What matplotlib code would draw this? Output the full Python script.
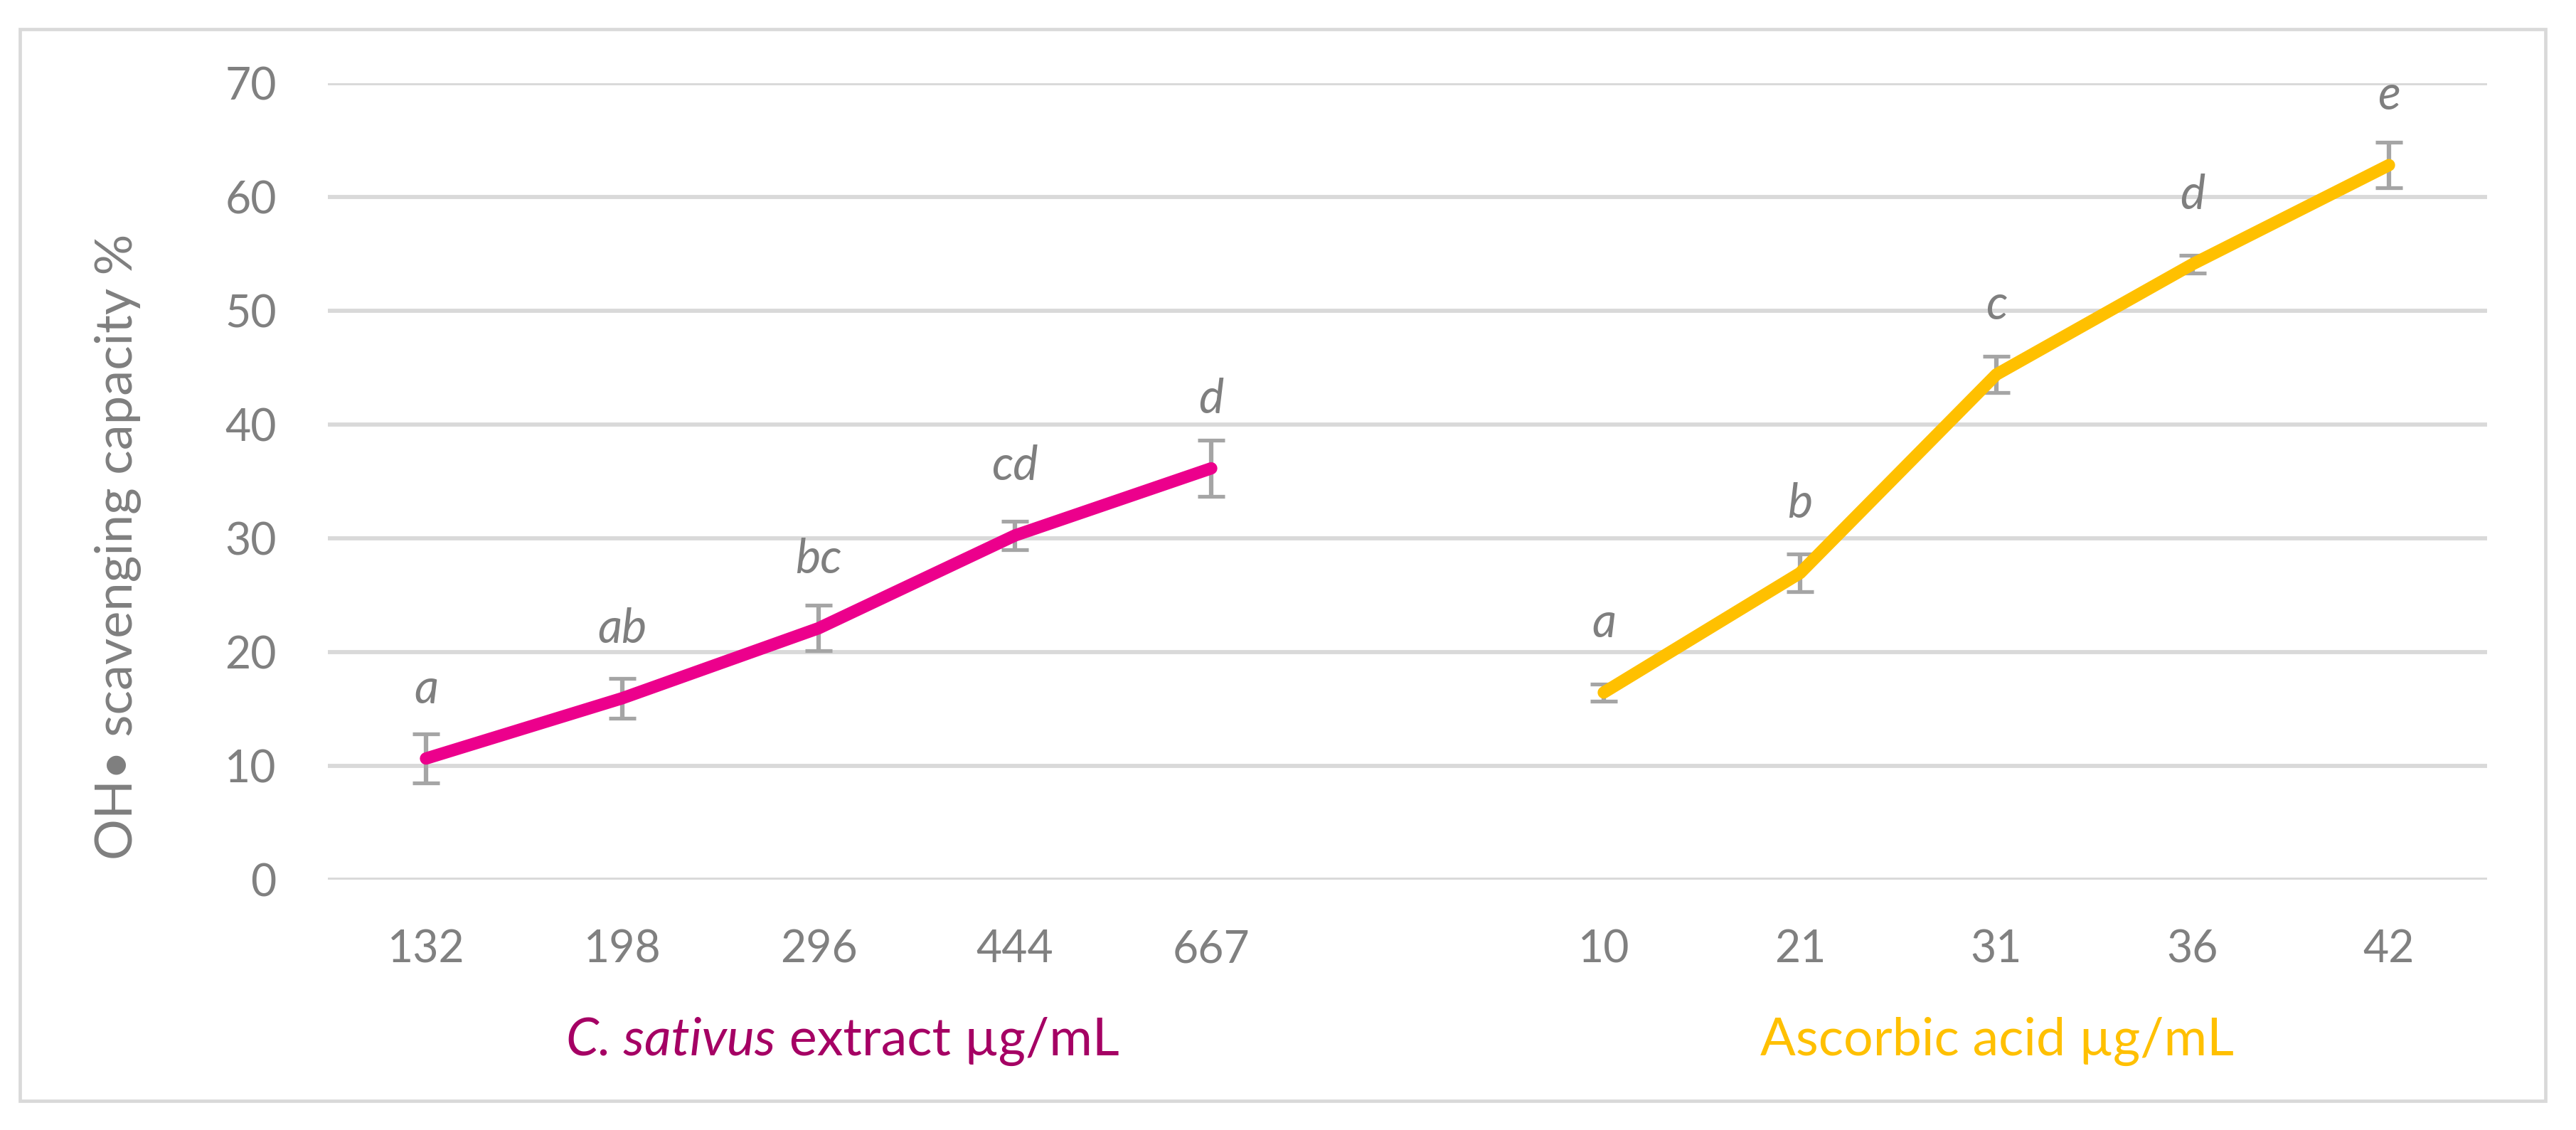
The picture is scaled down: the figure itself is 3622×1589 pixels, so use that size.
import matplotlib
matplotlib.use("Agg")
import matplotlib.pyplot as plt
from matplotlib.patches import Rectangle

# ---- data ----
cs_conc = ["132", "198", "296", "444", "667"]
cs_vals = [10.65, 15.95, 22.1, 30.25, 36.15]
cs_err = [2.15, 1.75, 2.0, 1.25, 2.45]
cs_letters = ["a", "ab", "bc", "cd", "d"]

aa_conc = ["10", "21", "31", "36", "42"]
aa_vals = [16.45, 26.95, 44.4, 54.1, 62.8]
aa_err = [0.75, 1.65, 1.6, 0.8, 2.0]
aa_letters = ["a", "b", "c", "d", "e"]

y_ticks = [0, 10, 20, 30, 40, 50, 60, 70]

# ---- style ----
W, H, DPI = 3622, 1589, 100
FONT = ["Lato", "DejaVu Sans"]
plt.rcParams["font.family"] = FONT
GRAY_TXT = "#7F7F7F"
GRID = "#D9D9D9"
PINK = "#EC008C"
PINK_TXT = "#A50064"
GOLD = "#FFC000"
ERR = "#A5A5A5"

fig = plt.figure(figsize=(W / DPI, H / DPI), dpi=DPI)
fig.patch.set_facecolor("white")

# outer frame
fig.patches.append(Rectangle((28 / W, 1 - 1548 / H), (3579 - 28) / W, (1548 - 41) / H,
                             transform=fig.transFigure, fill=False,
                             edgecolor=GRID, linewidth=3.4, zorder=0))

ax = fig.add_axes([461 / W, 1 - 1237 / H, (3497 - 461) / W, (1237 - 117) / H])
ax.set_facecolor("none")

cs_x = list(range(len(cs_conc)))
aa_x = [len(cs_conc) + 1 + i for i in range(len(aa_conc))]

ax.set_xlim(-0.5, len(cs_conc) + len(aa_conc) + 0.5)
ax.set_ylim(0, 70)
ax.set_yticks(y_ticks)
ax.set_xticks(cs_x + aa_x)
ax.set_xticklabels(cs_conc + aa_conc)

for s in ax.spines.values():
    s.set_visible(False)
ax.tick_params(axis="both", length=0, labelsize=45, labelcolor="#808080")
ax.tick_params(axis="x", pad=50)
ax.tick_params(axis="y", pad=52)
ax.grid(axis="y", color=GRID, linewidth=4.2, zorder=0)
ax.set_axisbelow(True)

for xs, vals, errs, col, letters in [(cs_x, cs_vals, cs_err, PINK, cs_letters),
                                      (aa_x, aa_vals, aa_err, GOLD, aa_letters)]:
    ax.errorbar(xs, vals, yerr=errs, fmt="none", ecolor=ERR, elinewidth=4.5,
                capsize=13.5, capthick=3.8, zorder=2)
    ax.plot(xs, vals, color=col, linewidth=12.5, solid_capstyle="round",
            solid_joinstyle="round", zorder=3)
    for x, v, lab in zip(xs, vals, letters):
        ax.annotate(lab, (x, v), xytext=(0, 56), textcoords="offset points",
                    ha="center", va="baseline", fontsize=48, style="italic",
                    color=GRAY_TXT, zorder=4)

# y-axis title
fig.text(166 / W, 1 - 769 / H, "OH\u2022 scavenging capacity %", rotation=90,
         ha="center", va="center", fontsize=52, color=GRAY_TXT)

# category titles
fig.canvas.draw()
renderer = fig.canvas.get_renderer()
base_y = 1 - 1484 / H
t1 = fig.text(0, base_y, "C. sativus", style="italic", fontsize=53,
              color=PINK_TXT, ha="left", va="baseline")
t2 = fig.text(0, base_y, " extract \u00b5g/mL", fontsize=53,
              color=PINK_TXT, ha="left", va="baseline")
w1 = t1.get_window_extent(renderer).width
w2 = t2.get_window_extent(renderer).width
cx = 1185
x0 = cx - (w1 + w2) / 2
t1.set_x(x0 / W)
t2.set_x((x0 + w1) / W)

fig.text(2808 / W, base_y, "Ascorbic acid \u00b5g/mL", fontsize=53, color=GOLD,
         ha="center", va="baseline")

fig.savefig("out.png", dpi=DPI, facecolor="white")
